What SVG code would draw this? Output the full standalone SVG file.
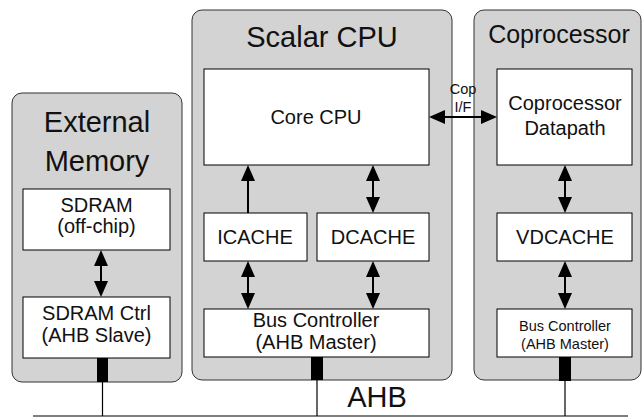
<svg xmlns="http://www.w3.org/2000/svg" width="642" height="417" viewBox="0 0 642 417">
  <style>
    .container { fill: #d3d3d3; stroke: #333; stroke-width: 1; }
    .box { fill: #fff; stroke: #000; stroke-width: 1; }
    .port { fill: #000; }
    .bus { stroke: #000; stroke-width: 1.2; fill: none; }
    .link { stroke: #000; stroke-width: 2; fill: none; }
    text { font-family: "Liberation Sans", Arial, sans-serif; fill: #111; text-anchor: middle; }
    .title { font-size: 29px; }
    .label { font-size: 20px; }
    .small { font-size: 14.5px; }
  </style>
  <defs>
    <marker id="head" viewBox="0 0 16 14" refX="14" refY="7" markerWidth="16" markerHeight="14" markerUnits="userSpaceOnUse" orient="auto-start-reverse">
      <path d="M0,0 L16,7 L0,14 Z" fill="#000"/>
    </marker>
  </defs>

  <rect width="642" height="417" fill="#fff"/>

  <!-- External memory subsystem -->
  <g id="external-memory">
    <rect class="container" x="12" y="93" width="170" height="289" rx="10"/>
    <text class="title" x="97" y="132">External</text>
    <text class="title" x="97" y="171">Memory</text>
  </g>
  <g id="sdram">
    <rect class="box" x="23" y="189" width="147" height="61"/>
    <text class="label" x="96.5" y="212">SDRAM</text>
    <text class="label" x="96.5" y="233">(off-chip)</text>
  </g>
  <g id="sdram-ctrl">
    <rect class="box" x="23" y="297" width="147" height="61"/>
    <text class="label" x="96.5" y="320">SDRAM Ctrl</text>
    <text class="label" x="96.5" y="342">(AHB Slave)</text>
    <rect class="port" x="97" y="358" width="11" height="24"/>
  </g>

  <!-- Scalar CPU subsystem -->
  <g id="scalar-cpu">
    <rect class="container" x="192" y="10" width="260" height="370" rx="10"/>
    <text class="title" x="322" y="47">Scalar CPU</text>
  </g>
  <g id="core-cpu">
    <rect class="box" x="204" y="69" width="225" height="96"/>
    <text class="label" x="316" y="124">Core CPU</text>
  </g>
  <g id="icache">
    <rect class="box" x="204" y="213" width="103" height="48"/>
    <text class="label" x="255" y="244">ICACHE</text>
  </g>
  <g id="dcache">
    <rect class="box" x="317" y="213" width="112" height="48"/>
    <text class="label" x="373" y="244">DCACHE</text>
  </g>
  <g id="cpu-bus-ctrl">
    <rect class="box" x="204" y="309" width="225" height="48"/>
    <text class="label" x="316" y="327">Bus Controller</text>
    <text class="label" x="316" y="349">(AHB Master)</text>
    <rect class="port" x="311" y="357" width="12" height="23"/>
  </g>

  <!-- Coprocessor subsystem -->
  <g id="coprocessor">
    <rect class="container" x="474" y="10" width="167" height="370" rx="10"/>
    <text class="title" x="559" y="43" style="font-size:25px">Coprocessor</text>
  </g>
  <g id="cop-datapath">
    <rect class="box" x="497" y="69" width="135" height="96"/>
    <text class="label" x="565" y="110">Coprocessor</text>
    <text class="label" x="565" y="135">Datapath</text>
  </g>
  <g id="vdcache">
    <rect class="box" x="497" y="213" width="135" height="48"/>
    <text class="label" x="565" y="244">VDCACHE</text>
  </g>
  <g id="cop-bus-ctrl">
    <rect class="box" x="497" y="309" width="135" height="48"/>
    <text class="small" x="565" y="331">Bus Controller</text>
    <text class="small" x="565" y="349">(AHB Master)</text>
    <rect class="port" x="559" y="357" width="12" height="24"/>
  </g>

  <!-- AHB bus -->
  <g id="ahb">
    <line class="bus" x1="33" y1="416" x2="628" y2="416"/>
    <text class="title" x="377" y="407">AHB</text>
  </g>

  <!-- Connectors -->
  <g id="connectors">
    <line class="bus" x1="102.5" y1="382" x2="102.5" y2="416"/>
    <line class="bus" x1="317" y1="380" x2="317" y2="416"/>
    <line class="bus" x1="565" y1="381" x2="565" y2="416"/>

    <line class="link" x1="101" y1="252" x2="101" y2="295" marker-start="url(#head)" marker-end="url(#head)"/>
    <line class="link" x1="248" y1="213" x2="248" y2="167" marker-end="url(#head)"/>
    <line class="link" x1="373" y1="167" x2="373" y2="211" marker-start="url(#head)" marker-end="url(#head)"/>
    <line class="link" x1="248" y1="263" x2="248" y2="307" marker-start="url(#head)" marker-end="url(#head)"/>
    <line class="link" x1="373" y1="263" x2="373" y2="307" marker-start="url(#head)" marker-end="url(#head)"/>
    <line class="link" x1="431" y1="117" x2="495" y2="117" marker-start="url(#head)" marker-end="url(#head)"/>
    <line class="link" x1="565" y1="167" x2="565" y2="211" marker-start="url(#head)" marker-end="url(#head)"/>
    <line class="link" x1="565" y1="263" x2="565" y2="307" marker-start="url(#head)" marker-end="url(#head)"/>
    <text class="small" x="463" y="94">Cop</text>
    <text class="small" x="463" y="112">I/F</text>
  </g>
</svg>
